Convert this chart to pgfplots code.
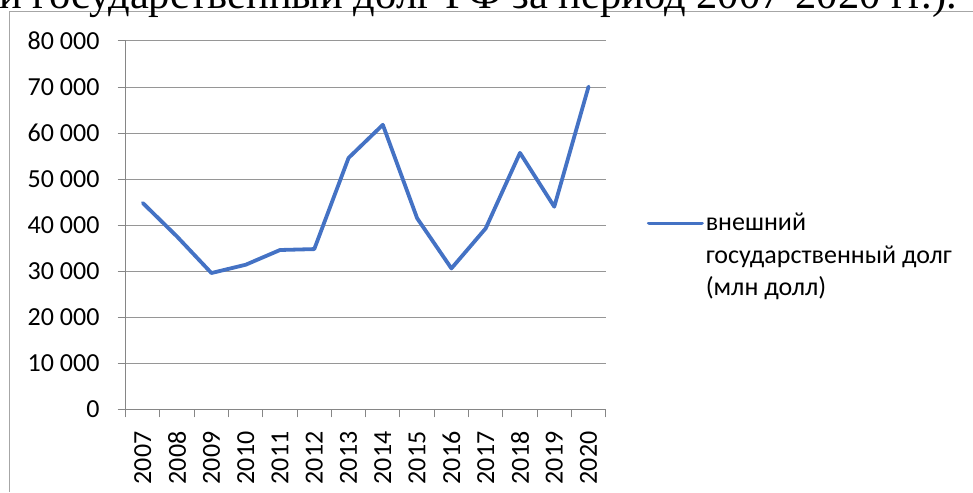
\documentclass[border=0pt]{standalone}
\usepackage{pgfplots}
\pgfplotsset{compat=1.18}
\usepackage{fontspec}
\setmainfont{Carlito}
\newfontfamily\tnr{Liberation Serif}
\definecolor{xlblue}{HTML}{4472C4}
\definecolor{axgray}{HTML}{868686}
\definecolor{grgray}{HTML}{969696}
\definecolor{frgray}{HTML}{A6A6A6}
\begin{document}
\begin{tikzpicture}
\useasboundingbox (0pt,0pt) rectangle (973pt,492pt);
\clip (0pt,0pt) rectangle (973pt,492pt);
\draw[frgray, line width=1pt] (9.5pt,0pt) -- (9.5pt,480pt) -- (973pt,480pt);
\node[anchor=base east, inner sep=0pt, font=\tnr\fontsize{42.5}{50}\selectfont] at (957pt,483.7pt) {и государственный долг РФ за период 2007-2020 гг.).};
\begin{axis}[
  at={(125.7pt,82.7pt)}, anchor=south west,
  width=480pt, height=368.3pt, scale only axis,
  xmin=-0.5, xmax=13.5, ymin=0, ymax=80000,
  axis x line*=bottom, axis y line*=left,
  axis line style={axgray, line width=1pt},
  xtick={0,...,13},
  xticklabels={2007,2008,2009,2010,2011,2012,2013,2014,2015,2016,2017,2018,2019,2020},
  major x tick style={draw=none},
  minor xtick={-0.5,0.5,...,13.5},
  minor tick length=8pt,
  minor x tick style={axgray, line width=1pt},
  ytick={0,10000,...,80000},
  yticklabels={0,10 000,20 000,30 000,40 000,50 000,60 000,70 000,80 000},
  scaled y ticks=false,
  tick align=outside,
  major tick length=8pt,
  y tick style={axgray, line width=1pt},
  ymajorgrids,
  grid style={grgray, line width=1pt},
  tick label style={font=\fontsize{26}{31}\selectfont, black},
  x tick label style={rotate=90, anchor=east, inner sep=0pt},
  y tick label style={anchor=east, inner sep=0pt},
  xticklabel shift=14pt,
  yticklabel shift=18pt,
  legend style={draw=none, fill=none, inner sep=0pt, outer sep=0pt,
    at={(1.086,0.532)}, anchor=north west,
    cells={anchor=base west},
    nodes={inner sep=0pt, align=left, font=\fontsize{26}{32.5}\selectfont},
    column sep=2pt},
  legend image code/.code={\draw[#1] (0pt,72.5pt) -- (53pt,72.5pt);},
  clip=false,
]
\addplot[xlblue, line width=3.8pt, line join=round, line cap=round] coordinates {
(0,44800) (1,37500) (2,29600) (3,31400) (4,34600) (5,34800) (6,54600)
(7,61800) (8,41500) (9,30600) (10,39300) (11,55700) (12,44000) (13,70100)
};
\addlegendentry{внешний\\государственный долг\\(млн долл)}
\end{axis}
\end{tikzpicture}
\end{document}
